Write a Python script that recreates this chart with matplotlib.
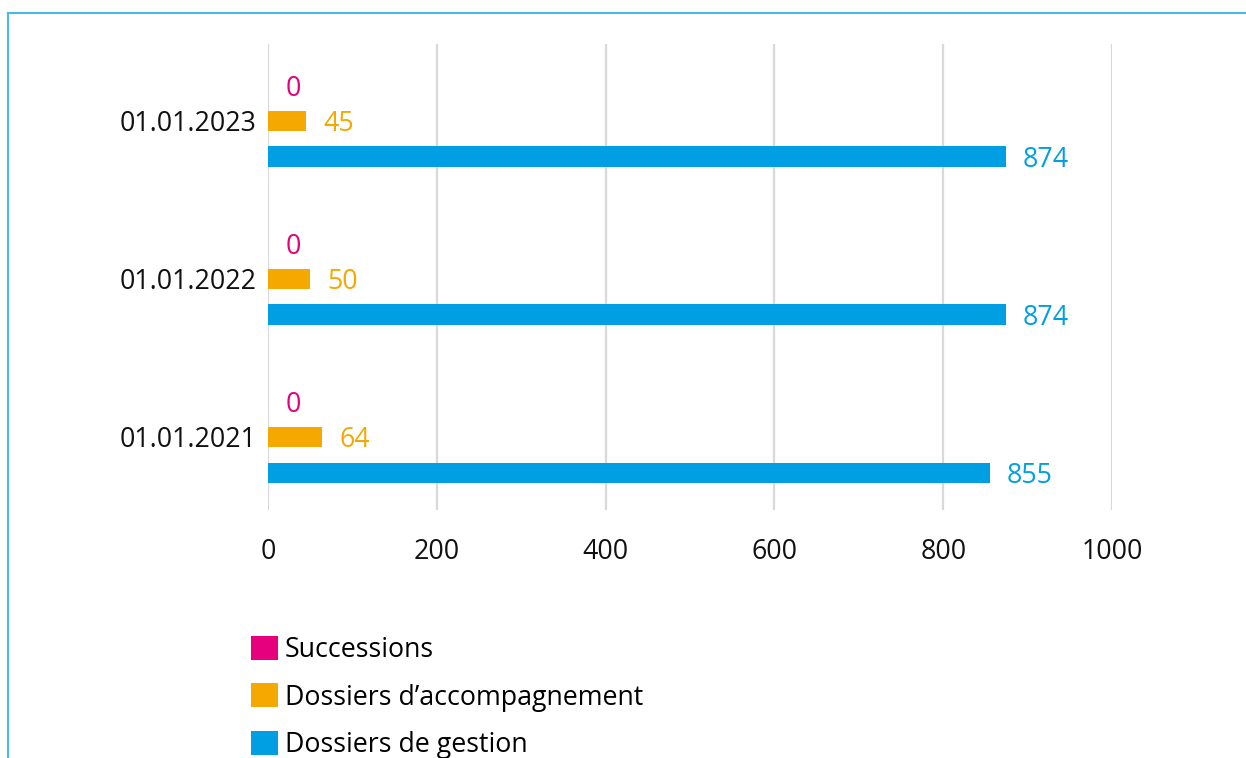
import matplotlib.pyplot as plt
import numpy as np
from matplotlib.lines import Line2D

plt.rcParams['font.family'] = ['Open Sans', 'DejaVu Sans']

dates = ['01.01.2021', '01.01.2022', '01.01.2023']
successions = [0, 0, 0]
accompagnement = [64, 50, 45]
gestion = [855, 874, 874]

series = [
    ('Successions', successions, '#E6007E', 0.225),
    ('Dossiers d\u2019accompagnement', accompagnement, '#F5A800', 0.0),
    ('Dossiers de gestion', gestion, '#009FE3', -0.225),
]

FS = 19.3

fig = plt.figure(figsize=(12.46, 7.58), dpi=100)
ax = fig.add_axes([268 / 1246, 1 - 510 / 758, (1112 - 268) / 1246, (510 - 44) / 758])

y = np.arange(len(dates))
handles = []
for name, vals, color, off in series:
    b = ax.barh(y + off, vals, height=0.127, color=color, label=name, zorder=3)
    handles.append(b)
    for yi, v in zip(y, vals):
        ax.annotate(str(v), (v, yi + off), xytext=(12.5, 0), textcoords='offset points',
                    ha='left', va='center_baseline', color=color, fontsize=FS)

ax.set_xlim(0, 1000)
ax.set_ylim(-0.462, 2.487)
ax.set_xticks(range(0, 1001, 200))
ax.set_yticks(y)
ax.set_yticklabels(dates)
ax.tick_params(axis='both', length=0, labelsize=FS, colors='#111111')
ax.tick_params(axis='x', pad=20)
ax.tick_params(axis='y', pad=8)
ax.grid(axis='x', color='#d9d9d9', linewidth=1.6, zorder=0)
for s in ax.spines.values():
    s.set_visible(False)

fig.legend(handles=handles, loc='upper left', bbox_to_anchor=(251 / 1246, 1 - 636 / 758),
           frameon=False, fontsize=FS, handlelength=1.0, handleheight=1.0,
           handletextpad=0.25, labelspacing=0.72, borderpad=0, borderaxespad=0)

# frame lines along top and left
fig.add_artist(Line2D([8 / 1246, 1], [1 - 13 / 758, 1 - 13 / 758], color='#4DB8E8', linewidth=1.5))
fig.add_artist(Line2D([8 / 1246, 8 / 1246], [0, 1 - 13 / 758], color='#4DB8E8', linewidth=1.5))

fig.savefig('out.png', dpi=100)
